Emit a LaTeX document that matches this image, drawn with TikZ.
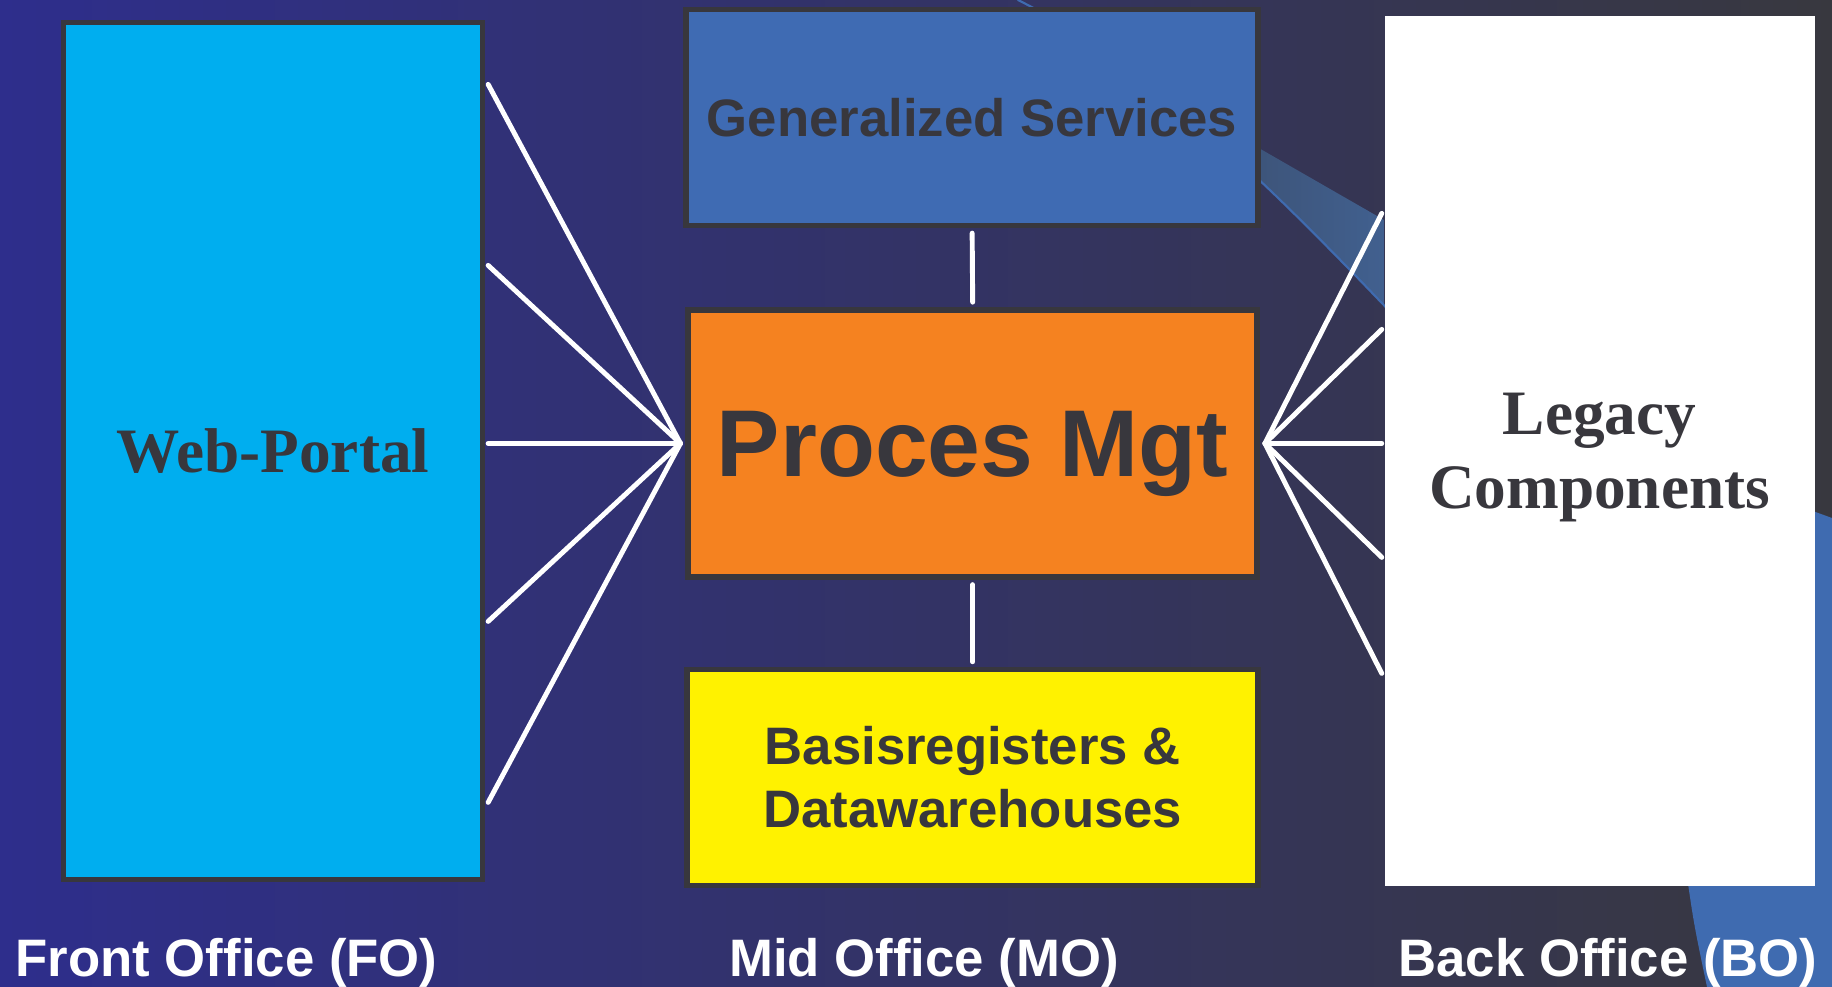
\documentclass[tikz,border=0pt]{standalone}
\usepackage{fontspec}
\setmainfont{Liberation Sans}
\newfontfamily\legacyfont{Liberation Serif}
\usetikzlibrary{calc}

\definecolor{bgleft}{HTML}{2E2E8C}
\definecolor{bgright}{HTML}{38383F}
\definecolor{edgegrey}{HTML}{38373D}
\definecolor{portalcyan}{HTML}{00AEEF}
\definecolor{servblue}{HTML}{3F6BB3}
\definecolor{procorange}{HTML}{F58220}
\definecolor{regyellow}{HTML}{FFF200}
\definecolor{swooshblue}{HTML}{3F6BB0}
\definecolor{bandleft}{HTML}{3D5479}
\definecolor{bandright}{HTML}{41608F}

\begin{document}
\begin{tikzpicture}[x=0.1mm,y=-0.1mm,line cap=round]
  \tikzset{
    block/.style={draw=edgegrey, line width=0.55mm, text=edgegrey, align=center, inner sep=0pt,
      font=\fontsize{15}{18}\selectfont\bfseries},
    legacy/.style={font=\legacyfont\fontsize{18}{21}\selectfont\bfseries, text depth=0pt},
    link/.style={draw=white, line width=1.4pt},
    office/.style={text=white, anchor=base, font=\fontsize{15}{18}\selectfont\bfseries}
  }
  \useasboundingbox (0,0) rectangle (1832,987);

  % Background
  \shade[left color=bgleft, right color=bgright] (0,0) rectangle (1832,987);

  % Swoosh behind the boxes
  \shade[left color=bandleft, right color=bandright]
    (1250,143) -- (1384,220) -- (1384,305) -- (1250,170) -- cycle;
  \draw[swooshblue, line width=0.6pt] (1018,0) .. controls (1158,70) and (1290,207) .. (1400,322);
  \fill[swooshblue] (1832,518) -- (1700,470) -- (1686,870)
    .. controls (1694,925) .. (1707,987) -- (1832,987) -- cycle;

  % Front office
  \node[block, legacy, fill=portalcyan, minimum width=41.9mm, minimum height=85.7mm]
    (wp) at (272.9,451) {Web-Portal};

  % Mid office
  \node[block, fill=servblue, minimum width=57.2mm, minimum height=21.6mm]
    (gs) at (972.1,117.4) {Generalized Services};
  \node[block, fill=procorange, minimum width=56.9mm, minimum height=26.7mm,
    font=\fontsize{27}{32}\selectfont\bfseries, text depth=0pt]
    (pm) at (972.7,443.4) {Proces Mgt};
  \node[block, fill=regyellow, minimum width=57.1mm, minimum height=21.6mm]
    (br) at (972.7,777.5) {Basisregisters \&\\Datawarehouses};

  % Back office
  \node[block, legacy, draw=none, fill=white, minimum width=43mm, minimum height=86.9mm]
    (lb) at (1599.5,451) {Legacy\\Components};

  % Fan-in and fan-out links
  \coordinate (pmL) at ($(pm.west)+(-5,0)$);
  \coordinate (pmR) at ($(pm.east)+(5,0)$);
  \foreach \dy in {-359,-178,0,178,359}
    \draw[link] ($(wp.east |- pm.west)+(3,\dy)$) -- (pmL);
  \foreach \dy in {-230,-114,0,114,230}
    \draw[link] (pmR) -- ($(lb.west |- pm.east)+(0,\dy)$);
  \draw[link, shorten <=0.5mm, shorten >=0.5mm] (gs.south) -- (pm.north);
  \draw[link, shorten <=0.5mm, shorten >=0.5mm] (pm.south) -- (br.north);

  % Column labels
  \node[office] (fo) at (226.5,976) {Front Office (FO)};
  \node[office] (mo) at (924,976) {Mid Office (MO)};
  \node[office] (bo) at (1608,976) {Back Office (BO)};
\end{tikzpicture}
\end{document}
